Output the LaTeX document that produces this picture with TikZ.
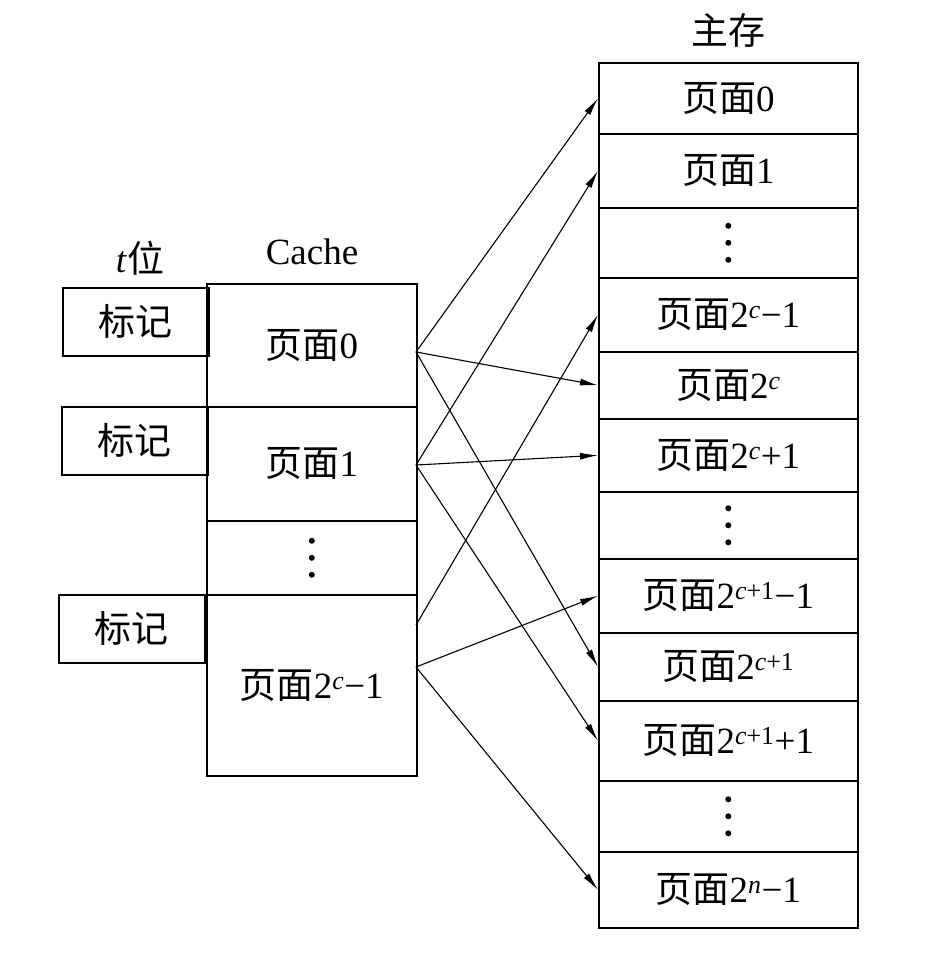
\documentclass[tikz,border=0pt]{standalone}
\usepackage{fontspec}
\setmainfont{Liberation Serif}
\newfontfamily\cjk{Noto Sans CJK SC}
\usetikzlibrary{arrows.meta}
\newcommand{\ym}{{\cjk 页面}}
\newcommand{\sups}[1]{\textsuperscript{#1}}
\begin{document}
\begin{tikzpicture}[x=1pt,y=-1pt,
  every node/.style={font=\fontsize{37}{42}\selectfont, inner sep=0pt},
  mrow/.style={draw, line width=1.6pt, minimum width=259pt, anchor=north west},
  crow/.style={draw, line width=1.6pt, minimum width=210pt, anchor=north west},
  tagbox/.style={draw, line width=1.6pt, minimum width=146pt, minimum height=68pt, anchor=north west},
  arr/.style={line width=1.1pt, -{Latex[length=18pt,width=7pt]}},
  dots/.pic={\fill (0,-17) circle (3pt) (0,0) circle (3pt) (0,17) circle (3pt);}]
\useasboundingbox (0,0) rectangle (926,966);
% main memory
\node[mrow, minimum height=71pt] (m0) at (598,62) {\ym0};
\node[mrow, minimum height=74pt] (m1) at (598,133) {\ym1};
\node[mrow, minimum height=70pt] (m2) at (598,207) {};
\node[mrow, minimum height=74pt] (m3) at (598,277) {\ym2\sups{\textit{c}}−1};
\node[mrow, minimum height=67pt] (m4) at (598,351) {\ym2\sups{\textit{c}}};
\node[mrow, minimum height=73pt] (m5) at (598,418) {\ym2\sups{\textit{c}}+1};
\node[mrow, minimum height=67pt] (m6) at (598,491) {};
\node[mrow, minimum height=74pt] (m7) at (598,558) {\ym2\sups{\textit{c}+1}−1};
\node[mrow, minimum height=68pt] (m8) at (598,632) {\ym2\sups{\textit{c}+1}};
\node[mrow, minimum height=80pt] (m9) at (598,700) {\ym2\sups{\textit{c}+1}+1};
\node[mrow, minimum height=71pt] (m10) at (598,780) {};
\node[mrow, minimum height=76pt] (m11) at (598,851) {\ym2\sups{\textit{n}}−1};
% cache
\node[crow, minimum height=123pt] (c0) at (206,283) {\ym0};
\node[crow, minimum height=114pt] (c1) at (206,406) {\ym1};
\node[crow, minimum height=74pt] (c2) at (206,520) {};
\node[crow, minimum height=181pt] (c3) at (206,594) {\ym2\sups{\textit{c}}−1};
% vertical ellipses
\pic at (m2.center) {dots};
\pic at (m6.center) {dots};
\pic at (m10.center) {dots};
\pic at (c2.center) {dots};
% tags
\node[tagbox] (t1) at (62,287) {\cjk 标记};
\node[tagbox] (t2) at (61,406) {\cjk 标记};
\node[tagbox] (t3) at (58,594) {\cjk 标记};
% labels
\node (tlab) at (140,258) {\textit{t}\cjk 位};
\node (clab) at (312,252) {Cache};
\node (mlab) at (728,30) {\cjk 主存};
% arrow origins
\coordinate (o0) at (416,352);
\coordinate (o1) at (416,465);
\coordinate (o2a) at (416,625);
\coordinate (o2b) at (416,667);
\draw[arr] (o0) -- (m0.west);
\draw[arr] (o0) -- (m4.west);
\draw[arr] (o0) -- (m8.west);
\draw[arr] (o1) -- (m1.west);
\draw[arr] (o1) -- (m5.west);
\draw[arr] (o1) -- (m9.west);
\draw[arr] (o2a) -- (m3.west);
\draw[arr] (o2b) -- (m7.west);
\draw[arr] (o2b) -- (m11.west);
\end{tikzpicture}
\end{document}
